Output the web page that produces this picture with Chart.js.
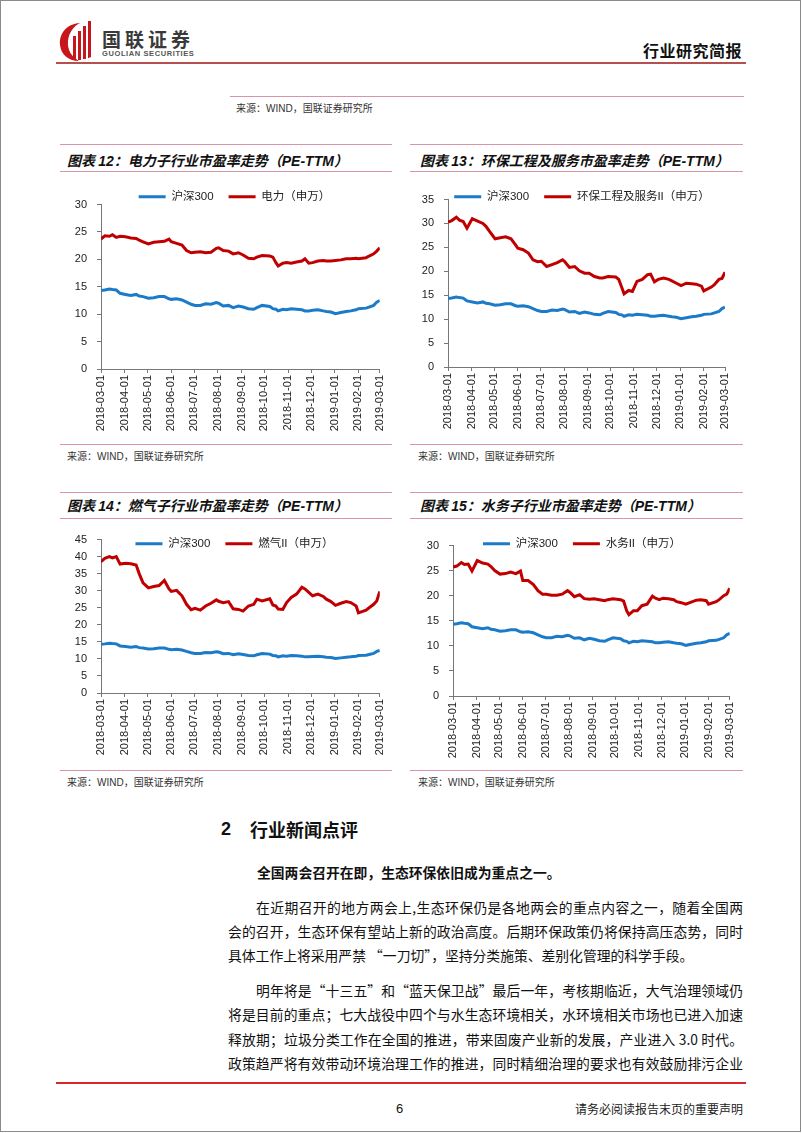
<!DOCTYPE html>
<html>
<head>
<meta charset="utf-8">
<script src="https://cdn.jsdelivr.net/npm/chart.js@4.4.0/dist/chart.umd.min.js"></script>
<style>
  body { margin: 0; width: 802px; height: 1133px; position: relative; background: #fff; overflow: hidden;
         font-family: "Noto Sans CJK SC", sans-serif; color: #111; }
  .frame { position: absolute; left: 0; top: 0; width: 799px; height: 1130px; border: 1px solid #8a8a8a; }
  .hl { position: absolute; height: 1px; background: #d993ab; }
  .title { position: absolute; font-size: 14px; font-weight: bold; font-style: italic; white-space: nowrap; line-height: 18px; }
  .title span { font-family: "Liberation Sans", Arial, sans-serif; }
  .src { position: absolute; font-size: 10px; color: #333; white-space: nowrap; line-height: 14px; }
  .src span { font-family: "Liberation Sans", Arial, sans-serif; }
  .box { position: absolute; }
  .p { position: absolute; left: 228px; width: 515px; font-size: 13.8px; line-height: 20px; white-space: nowrap;
       text-align: justify; text-align-last: justify; }
  .p.last { text-align-last: left; }
  .p.ind { padding-left: 28px; width: 487px; }
</style>
</head>
<body>
<div class="frame"></div>

<!-- header -->
<svg style="position:absolute;left:58px;top:20px" width="40" height="42" viewBox="0 0 40 42">
  <path d="M22 3 C8 4 1 14 2 25 C3 35 11 41 21 41 C14 37 9 30 10 21 C11 12 16 6 22 3 Z" fill="#c8161d"/>
  <rect x="15" y="16" width="3" height="24" fill="#c8161d"/>
  <rect x="20" y="11" width="3" height="29" fill="#c8161d"/>
  <rect x="25" y="6" width="3" height="33" fill="#c8161d"/>
  <path d="M30 1 L33 1 L33 37 C31 38 30 38 30 38 Z" fill="#c8161d"/>
</svg>
<div style="position:absolute;left:102px;top:28px;font-size:19px;font-weight:bold;color:#3a3a3a;letter-spacing:4px;line-height:22px">国联证券</div>
<div style="position:absolute;left:102px;top:50px;font-size:7.5px;font-weight:bold;color:#555;letter-spacing:0.6px;line-height:8px;font-family:'Liberation Sans',Arial,sans-serif">GUOLIAN SECURITIES</div>
<div style="position:absolute;left:643px;top:40px;font-size:16px;font-weight:bold;line-height:20px;letter-spacing:0.5px">行业研究简报</div>
<div class="hl" style="left:56px;top:62px;width:690px;height:2px;background:#b5504f"></div>

<div class="hl" style="left:230px;top:96px;width:514px"></div>
<div class="src" style="left:236px;top:101px">来源：<span>WIND</span>，国联证券研究所</div>

<!-- chart 12 -->
<div class="hl" style="left:60px;top:144px;width:332px"></div>
<div class="title" style="left:67px;top:151px">图表 <span>12</span>：电力子行业市盈率走势（<span>PE-TTM</span>）</div>
<div class="hl" style="left:60px;top:171px;width:332px"></div>
<div class="box" style="left:60px;top:168px"><canvas id="c12" width="335" height="272"></canvas></div>
<div class="hl" style="left:60px;top:444px;width:332px"></div>
<div class="src" style="left:67px;top:449px">来源：<span>WIND</span>，国联证券研究所</div>

<!-- chart 13 -->
<div class="hl" style="left:410px;top:144px;width:333px"></div>
<div class="title" style="left:420px;top:151px">图表 <span>13</span>：环保工程及服务市盈率走势（<span>PE-TTM</span>）</div>
<div class="hl" style="left:410px;top:171px;width:333px"></div>
<div class="box" style="left:405px;top:163px"><canvas id="c13" width="340" height="277"></canvas></div>
<div class="hl" style="left:410px;top:444px;width:333px"></div>
<div class="src" style="left:418px;top:449px">来源：<span>WIND</span>，国联证券研究所</div>

<!-- chart 14 -->
<div class="hl" style="left:60px;top:492px;width:332px"></div>
<div class="title" style="left:67px;top:496px">图表 <span>14</span>：燃气子行业市盈率走势（<span>PE-TTM</span>）</div>
<div class="hl" style="left:60px;top:518px;width:332px"></div>
<div class="box" style="left:60px;top:503px"><canvas id="c14" width="335" height="267"></canvas></div>
<div class="hl" style="left:60px;top:770px;width:332px"></div>
<div class="src" style="left:67px;top:775px">来源：<span>WIND</span>，国联证券研究所</div>

<!-- chart 15 -->
<div class="hl" style="left:410px;top:492px;width:333px"></div>
<div class="title" style="left:420px;top:496px">图表 <span>15</span>：水务子行业市盈率走势（<span>PE-TTM</span>）</div>
<div class="hl" style="left:410px;top:518px;width:333px"></div>
<div class="box" style="left:405px;top:509px"><canvas id="c15" width="340" height="261"></canvas></div>
<div class="hl" style="left:410px;top:770px;width:333px"></div>
<div class="src" style="left:418px;top:775px">来源：<span>WIND</span>，国联证券研究所</div>

<!-- text section -->
<div style="position:absolute;left:221px;top:818px;font-size:18px;font-weight:bold;line-height:22px;font-family:'Liberation Sans',Arial,sans-serif">2</div>
<div style="position:absolute;left:250px;top:818px;font-size:18px;font-weight:bold;line-height:22px">行业新闻点评</div>
<div style="position:absolute;left:257px;top:862px;font-size:13.8px;font-weight:bold;line-height:20px;white-space:nowrap">全国两会召开在即，生态环保依旧成为重点之一。</div>

<div class="p ind" style="top:897px">在近期召开的地方两会上,生态环保仍是各地两会的重点内容之一，随着全国两</div>
<div class="p" style="top:921px">会的召开，生态环保有望站上新的政治高度。后期环保政策仍将保持高压态势，同时</div>
<div class="p last" style="top:945px">具体工作上将采用严禁 “一刀切”，坚持分类施策、差别化管理的科学手段。</div>

<div class="p ind" style="top:980px">明年将是“十三五”和“蓝天保卫战”最后一年，考核期临近，大气治理领域仍</div>
<div class="p" style="top:1004px">将是目前的重点；七大战役中四个与水生态环境相关，水环境相关市场也已进入加速</div>
<div class="p" style="top:1029px">释放期；垃圾分类工作在全国的推进，带来固废产业新的发展，产业进入 3.0 时代。</div>
<div class="p" style="top:1053px">政策趋严将有效带动环境治理工作的推进，同时精细治理的要求也有效鼓励排污企业</div>

<!-- footer -->
<div class="hl" style="left:56px;top:1082px;width:690px;height:2px;background:#d9262c"></div>
<div style="position:absolute;left:396px;top:1100px;font-size:13px;line-height:18px;font-family:'Liberation Sans',Arial,sans-serif">6</div>
<div style="position:absolute;left:575px;top:1100px;font-size:12px;line-height:18px;color:#222;white-space:nowrap">请务必阅读报告末页的重要声明</div>

<script>
// month ticks on the x axis
const tickLabels = ['2018-03-01', '2018-04-01', '2018-05-01', '2018-06-01', '2018-07-01', '2018-08-01',
  '2018-09-01', '2018-10-01', '2018-11-01', '2018-12-01', '2019-01-01', '2019-02-01', '2019-03-01'];

// sample dates (roughly weekly)
const sampleDates = [
  '2018-03-01', '2018-03-06', '2018-03-12', '2018-03-16', '2018-03-21', '2018-03-26',
  '2018-04-02', '2018-04-09', '2018-04-16', '2018-04-20', '2018-04-25',
  '2018-05-02', '2018-05-09', '2018-05-16', '2018-05-23', '2018-05-29',
  '2018-06-01', '2018-06-08', '2018-06-15', '2018-06-21', '2018-06-27',
  '2018-07-02', '2018-07-09', '2018-07-16', '2018-07-23', '2018-07-30',
  '2018-08-02', '2018-08-08', '2018-08-15', '2018-08-21', '2018-08-28',
  '2018-09-03', '2018-09-10', '2018-09-17', '2018-09-21', '2018-09-28',
  '2018-10-08', '2018-10-12', '2018-10-16', '2018-10-19', '2018-10-25', '2018-10-30',
  '2018-11-05', '2018-11-12', '2018-11-19', '2018-11-23', '2018-11-28',
  '2018-12-03', '2018-12-10', '2018-12-17', '2018-12-21', '2018-12-27',
  '2019-01-02', '2019-01-09', '2019-01-16', '2019-01-22', '2019-01-29',
  '2019-02-01', '2019-02-11', '2019-02-15', '2019-02-21', '2019-02-25', '2019-03-01'];

// 沪深300 PE-TTM (same in all four charts)
const hs300 = [
  14.3, 14.4, 14.6, 14.5, 14.4, 13.8,
  13.6, 13.4, 13.6, 13.3, 13.2,
  12.9, 13.0, 13.2, 13.2, 12.8,
  12.7, 12.8, 12.6, 12.2, 11.8,
  11.6, 11.6, 11.9, 11.8, 12.1,
  12.0, 11.5, 11.6, 11.2, 11.5,
  11.3, 11.0, 10.9, 11.2, 11.6,
  11.4, 11.0, 10.9, 10.6, 10.9, 10.8,
  11.0, 10.9, 10.8, 10.6, 10.6,
  10.7, 10.8, 10.6, 10.5, 10.4,
  10.1, 10.3, 10.5, 10.6, 10.8,
  11.0, 11.1, 11.3, 11.6, 12.2, 12.5];

// 电力（申万）
const dianli = [
  23.7, 24.3, 24.2, 24.5, 24.0, 24.2,
  24.1, 23.9, 23.8, 23.5, 23.2,
  22.8, 23.1, 23.2, 23.3, 23.7,
  23.2, 22.9, 22.6, 21.6, 21.2,
  21.3, 21.4, 21.2, 21.3, 22.0,
  22.1, 21.6, 21.5, 21.0, 21.2,
  20.8, 20.2, 20.1, 20.4, 20.7,
  20.6, 20.4, 19.4, 18.8, 19.3, 19.4,
  19.3, 19.5, 19.7, 20.1, 19.3,
  19.4, 19.7, 19.8, 19.7, 19.7,
  19.8, 19.9, 20.1, 20.1, 20.2,
  20.1, 20.3, 20.6, 21.0, 21.5, 22.1];

// 环保工程及服务II（申万）
const huanbao = [
  30.3, 30.6, 31.3, 30.7, 30.4, 29.0,
  31.0, 30.5, 30.0, 29.4, 28.3,
  26.8, 27.0, 27.2, 26.8, 25.5,
  24.8, 24.5, 23.8, 22.4, 22.0,
  22.1, 21.0, 21.4, 21.8, 22.4,
  22.0, 20.8, 21.0, 20.1, 19.6,
  19.6, 18.9, 18.6, 18.6, 18.9,
  18.8, 18.3, 16.6, 15.3, 16.0, 15.8,
  17.9, 18.3, 19.3, 19.4, 17.8,
  18.3, 18.6, 18.3, 18.0, 17.5,
  17.0, 17.5, 17.4, 17.3, 16.9,
  15.9, 16.7, 17.2, 18.3, 18.5, 19.8];

// 燃气II（申万）
const ranqi = [
  38.5, 39.5, 40.0, 39.6, 40.0, 37.8,
  38.0, 37.9, 37.5, 35.0, 32.3,
  30.8, 31.2, 31.5, 33.0, 30.5,
  29.8, 30.1, 28.5, 26.0, 24.4,
  24.8, 24.3, 25.5, 26.3, 27.3,
  26.9, 26.5, 26.8, 24.7, 24.5,
  24.0, 25.5, 26.0, 27.5, 27.0,
  27.6, 25.8, 25.5, 24.6, 24.5, 26.5,
  28.0, 29.0, 31.0, 30.5, 29.5,
  28.5, 29.0, 28.3, 27.5, 26.8,
  25.7, 26.3, 26.8, 26.5, 25.5,
  23.5, 24.3, 25.0, 26.0, 27.0, 29.8];

// 水务II（申万）
const shuiwu = [
  25.7, 25.9, 26.6, 26.2, 26.3, 24.9,
  27.0, 26.5, 26.3, 25.8, 25.0,
  24.3, 24.4, 24.7, 24.4, 24.9,
  23.0, 23.0, 22.2, 21.0, 20.3,
  20.3, 20.1, 20.1, 20.3, 21.0,
  20.7, 19.8, 20.2, 19.4, 19.3,
  19.4, 19.2, 19.0, 19.2, 19.4,
  19.2, 18.9, 17.0, 16.2, 17.0, 17.0,
  18.0, 18.3, 19.9, 19.5, 19.2,
  19.5, 19.4, 19.2, 18.8, 18.6,
  18.3, 18.7, 19.1, 19.2, 19.0,
  18.3, 18.8, 19.2, 20.0, 20.3, 21.5];

const BLUE = '#1c7bc8';
const RED = '#c00000';
const FONT = '"Liberation Sans", Arial, "Noto Sans CJK SC", sans-serif';

const day0 = Date.UTC(2018, 2, 1);
function toDay(s) {
  const [y, m, d] = s.split('-').map(Number);
  return (Date.UTC(y, m - 1, d) - day0) / 86400000;
}
const tickDays = tickLabels.map(toDay);
const points = arr => arr.map((v, i) => ({ x: toDay(sampleDates[i]), y: v }));

// legend keeps its room at the top, but is drawn a bit lower / to the right like the reference
const legendShift = {
  id: 'legendShift',
  afterLayout(chart, args, opts) {
    const lg = chart.legend;
    if (!lg) return;
    lg.top += opts.dy || 0; lg.bottom += opts.dy || 0;
    lg.left += opts.dx || 0; lg.right += opts.dx || 0;
  }
};

function makeChart(id, redLabel, redValues, yMax, g) {
  new Chart(document.getElementById(id), {
    type: 'line',
    data: {
      datasets: [
        { label: '沪深300', data: points(hs300), borderColor: BLUE, backgroundColor: BLUE, borderWidth: 3 },
        { label: redLabel, data: points(redValues), borderColor: RED, backgroundColor: RED, borderWidth: 3 }
      ]
    },
    options: {
      responsive: false,
      animation: false,
      layout: { padding: { top: 0, right: g.padR, left: 0, bottom: 0 } },
      elements: { point: { radius: 0 }, line: { tension: 0 } },
      plugins: {
        legend: {
          position: 'top',
          align: 'center',
          labels: {
            usePointStyle: true, pointStyle: 'line', pointStyleWidth: 27,
            padding: 15, color: '#222', font: { size: 11.5, family: FONT }
          }
        },
        tooltip: { enabled: false },
        legendShift: { dy: g.dy, dx: g.dx }
      },
      scales: {
        x: {
          type: 'linear', min: 0, max: 365,
          afterBuildTicks: s => { s.ticks = tickDays.map(v => ({ value: v })); },
          afterFit: s => { s.height = g.xh; },
          ticks: {
            autoSkip: false, minRotation: 90, maxRotation: 90, padding: 2,
            color: '#222', font: { size: 11, family: FONT },
            callback: (v, i) => tickLabels[i]
          },
          grid: { drawOnChartArea: false, tickLength: 4, color: '#777' },
          border: { color: '#777' }
        },
        y: {
          min: 0, max: yMax,
          afterFit: s => { s.width = g.yw; },
          ticks: { stepSize: 5, padding: 10, color: '#222', font: { size: 11, family: FONT } },
          grid: { drawOnChartArea: false, tickLength: 4, color: '#777' },
          border: { color: '#777' }
        }
      }
    },
    plugins: [legendShift]
  });
}

makeChart('c12', '电力（申万）', dianli, 30, { yw: 41, xh: 71, padR: 14, dy: 8, dx: 14 });
makeChart('c13', '环保工程及服务II（申万）', huanbao, 35, { yw: 43, xh: 73, padR: 20, dy: 13, dx: 17 });
makeChart('c14', '燃气II（申万）', ranqi, 45, { yw: 41, xh: 77, padR: 14, dy: 20, dx: 14 });
makeChart('c15', '水务II（申万）', shuiwu, 30, { yw: 48, xh: 74, padR: 14, dy: 14, dx: 14 });
</script>
</body>
</html>
